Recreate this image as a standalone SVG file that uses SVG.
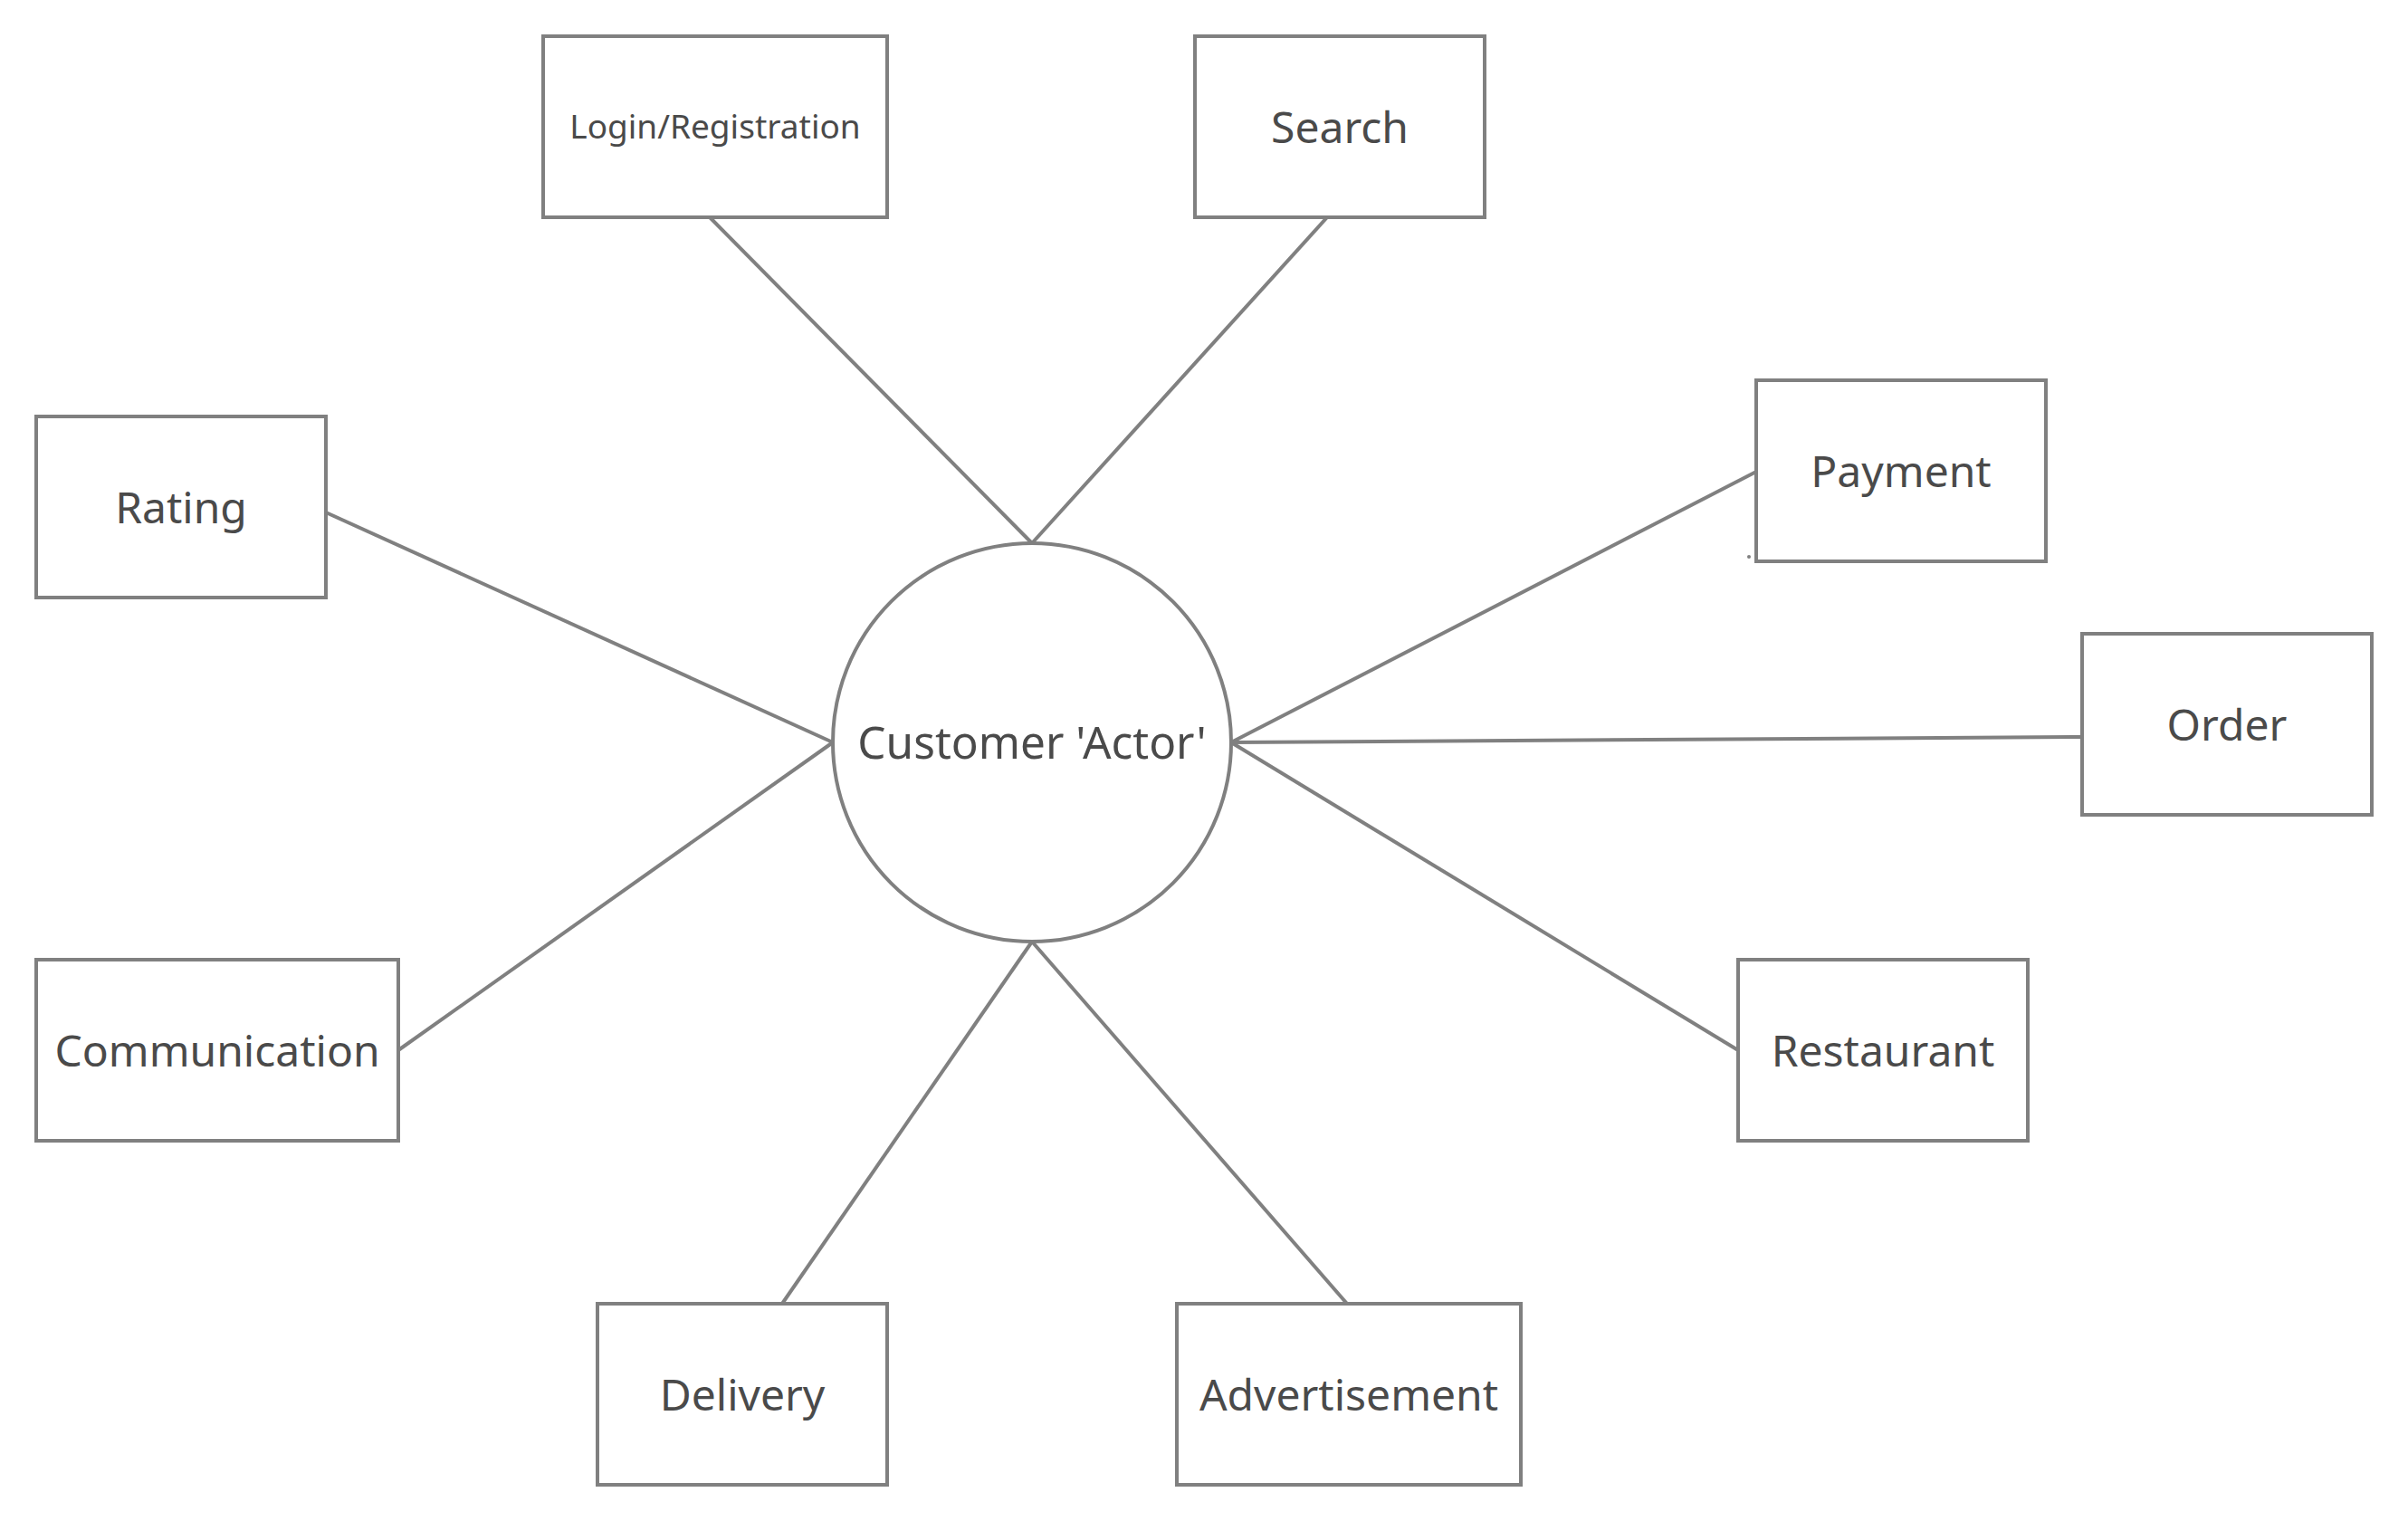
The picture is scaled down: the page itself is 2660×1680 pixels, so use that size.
<svg xmlns="http://www.w3.org/2000/svg" width="2660" height="1680" viewBox="0 0 2660 1680">
<style>
.box{fill:#ffffff;stroke:#808080;stroke-width:4}
.ln{stroke:#808080;stroke-width:4;fill:none}
.t{font-family:"Noto Sans","Open Sans","DejaVu Sans",sans-serif;font-size:48px;fill:#4a4a4a;text-anchor:middle}
.s{font-size:37px}
.c{font-size:49.5px}
</style>
<rect width="2660" height="1680" fill="#ffffff"/>
<g id="connectors">
<line class="ln" x1="784" y1="240" x2="1140" y2="600"/>
<line class="ln" x1="1466" y1="240" x2="1140" y2="600"/>
<line class="ln" x1="360" y1="566" x2="920" y2="820"/>
<line class="ln" x1="440" y1="1160" x2="920" y2="820"/>
<line class="ln" x1="1940" y1="521" x2="1360" y2="820"/>
<line class="ln" x1="2300" y1="814" x2="1360" y2="820"/>
<line class="ln" x1="1920" y1="1160" x2="1360" y2="820"/>
<line class="ln" x1="864" y1="1440" x2="1140" y2="1040"/>
<line class="ln" x1="1488" y1="1440" x2="1140" y2="1040"/>
</g>
<g id="customer">
<circle class="box" cx="1140" cy="820" r="220"/>
<text class="t c" x="1140" y="838">Customer 'Actor'</text>
</g>
<g id="login">
<rect class="box" x="600" y="40" width="380" height="200"/>
<text class="t s" x="790" y="153">Login/Registration</text>
</g>
<g id="search">
<rect class="box" x="1320" y="40" width="320" height="200"/>
<text class="t" x="1480" y="158">Search</text>
</g>
<g id="payment">
<rect class="box" x="1940" y="420" width="320" height="200"/>
<text class="t" x="2100" y="538">Payment</text>
<circle cx="1932" cy="615" r="2" fill="#808080"/>
</g>
<g id="rating">
<rect class="box" x="40" y="460" width="320" height="200"/>
<text class="t" x="200" y="578">Rating</text>
</g>
<g id="order">
<rect class="box" x="2300" y="700" width="320" height="200"/>
<text class="t" x="2460" y="818">Order</text>
</g>
<g id="communication">
<rect class="box" x="40" y="1060" width="400" height="200"/>
<text class="t" x="240" y="1178">Communication</text>
</g>
<g id="restaurant">
<rect class="box" x="1920" y="1060" width="320" height="200"/>
<text class="t" x="2080" y="1178">Restaurant</text>
</g>
<g id="delivery">
<rect class="box" x="660" y="1440" width="320" height="200"/>
<text class="t" x="820" y="1558">Delivery</text>
</g>
<g id="advertisement">
<rect class="box" x="1300" y="1440" width="380" height="200"/>
<text class="t" x="1490" y="1558">Advertisement</text>
</g>
</svg>
